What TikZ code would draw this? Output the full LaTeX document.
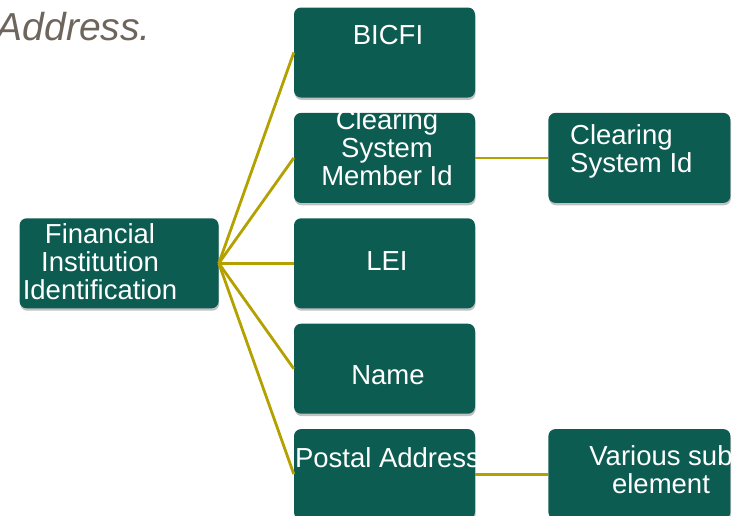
\documentclass[tikz,border=0pt]{standalone}
\usepackage{fontspec}
\setmainfont{Liberation Sans}
\usepackage{xcolor}
\usepackage{tikz}
\usetikzlibrary{positioning,shadows}
\definecolor{teal}{HTML}{0D5C51}
\definecolor{olive}{HTML}{B3A100}
\definecolor{titlegray}{HTML}{6E655C}
\tikzset{
  elbox/.style={rectangle, rounded corners=7pt, fill=teal, draw=none,
    minimum width=181pt, minimum height=90pt, inner sep=0pt,
    drop shadow={shadow xshift=0.6pt, shadow yshift=-2.4pt, opacity=0.35, fill=black!70}},
  link/.style={draw=olive, line width=2.8pt},
  lab/.style={text=white, font=\fontsize{27.5}{28}\selectfont, inner sep=0pt},
  ttl/.style={text=titlegray, font=\fontsize{39}{42}\selectfont\itshape, inner sep=0pt}
}

\begin{document}
\begin{tikzpicture}[x=1pt, y=-1pt, node distance=15pt]
  \useasboundingbox (0,0) rectangle (734,515);
  \node[ttl, anchor=base east] (title) at (151,40) {Address.};

  % main element and its children
  \node[elbox] (bic) at (384.5,52.5) {};
  \node[elbox, below=of bic] (csm) {};
  \node[elbox, below=of csm] (lei) {};
  \node[elbox, below=of lei] (nam) {};
  \node[elbox, below=of nam] (pst) {};
  \node[elbox, minimum width=199pt, left=75pt of lei] (fii) {};
  \node[elbox, minimum width=182pt, right=73pt of csm] (csi) {};
  \node[elbox, minimum width=182pt, right=73pt of pst] (var) {};

  \draw[link] (fii.east) -- (bic.west);
  \draw[link] (fii.east) -- (csm.west);
  \draw[link] (fii.east) -- (lei.west);
  \draw[link] (fii.east) -- (nam.west);
  \draw[link] (fii.east) -- (pst.west);
  \draw[link] (csm.east) -- (csi.west);
  \draw[link] (pst.east) -- (var.west);

  % texts (multi-line: base = last line)
  \node[lab, anchor=base, align=center] (fiiT) at (100,299) {Financial\\Institution\\Identification};
  \node[lab, anchor=base] (bicT) at (388,44) {BICFI};
  \node[lab, anchor=base, align=center] (csmT) at (387,185) {Clearing\\System\\Member Id};
  \node[lab, anchor=base] (leiT) at (387,270) {LEI};
  \node[lab, anchor=base] (namT) at (388,384) {Name};
  \node[lab, anchor=base] (pstT) at (387.5,467) {Postal Address};
  \node[lab, anchor=base west, align=left] (csiT) at (570,172) {Clearing\\System Id};
  \node[lab, anchor=base, align=center] (varT) at (661,493) {Various sub\\element};
\end{tikzpicture}
\end{document}
